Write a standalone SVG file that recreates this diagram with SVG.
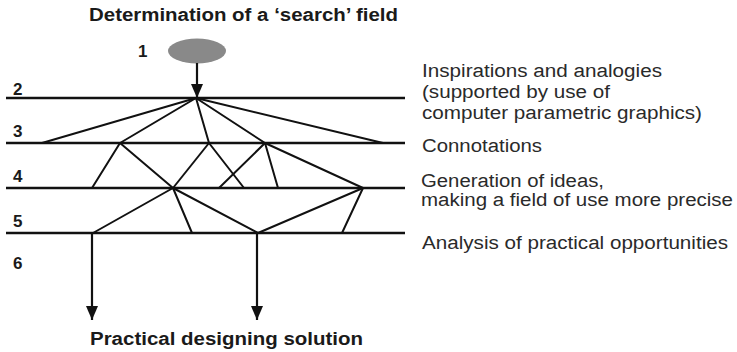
<svg xmlns="http://www.w3.org/2000/svg" width="737" height="352" viewBox="0 0 737 352">
  <defs>
    <marker id="arrow" viewBox="0 0 14 12" refX="14" refY="6" markerWidth="14" markerHeight="12" markerUnits="userSpaceOnUse" orient="auto">
      <path d="M0,0 L14,6 L0,12 Z" fill="#111"/>
    </marker>
    <style>
      .level { stroke: #111; stroke-width: 2.4; fill: none; }
      .edge { stroke: #111; stroke-width: 2; fill: none; stroke-linecap: round; }
      .flow { stroke: #111; stroke-width: 2.2; fill: none; }
      .head { font-family: "Liberation Sans", Arial, sans-serif; font-weight: bold; font-size: 18px; fill: #1a1a1a; }
      .num { font-family: "Liberation Sans", Arial, sans-serif; font-weight: bold; font-size: 17px; fill: #1a1a1a; }
      .desc { font-family: "Liberation Sans", Arial, sans-serif; font-size: 18px; fill: #2a2a2a; }
    </style>
  </defs>
  <rect width="737" height="352" fill="#fff"/>

  <!-- headings -->
  <g id="title">
    <text class="head" x="89" y="21" textLength="309" lengthAdjust="spacingAndGlyphs">Determination of a ‘search’ field</text>
  </g>
  <g id="result">
    <text class="head" x="90" y="345" textLength="273" lengthAdjust="spacingAndGlyphs">Practical designing solution</text>
  </g>

  <!-- start node -->
  <g id="node-start">
    <ellipse cx="197" cy="51" rx="29" ry="12.5" fill="#898989"/>
    <text class="num" x="138" y="57">1</text>
  </g>

  <!-- stage levels -->
  <g id="level-2">
    <line class="level" x1="6" y1="98" x2="405" y2="98"/>
    <text class="num" x="13" y="95">2</text>
    <text class="desc" x="422" y="77" textLength="240" lengthAdjust="spacingAndGlyphs">Inspirations and analogies</text>
    <text class="desc" x="422" y="98" textLength="188" lengthAdjust="spacingAndGlyphs">(supported by use of</text>
    <text class="desc" x="422" y="119" textLength="280" lengthAdjust="spacingAndGlyphs">computer parametric graphics)</text>
  </g>
  <g id="level-3">
    <line class="level" x1="6" y1="143" x2="405" y2="143"/>
    <text class="num" x="13" y="137">3</text>
    <text class="desc" x="422" y="152" textLength="120" lengthAdjust="spacingAndGlyphs">Connotations</text>
  </g>
  <g id="level-4">
    <line class="level" x1="6" y1="188" x2="405" y2="188"/>
    <text class="num" x="13" y="182">4</text>
    <text class="desc" x="421" y="187" textLength="183" lengthAdjust="spacingAndGlyphs">Generation of ideas,</text>
    <text class="desc" x="421" y="206" textLength="312" lengthAdjust="spacingAndGlyphs">making a field of use more precise</text>
  </g>
  <g id="level-5">
    <line class="level" x1="6" y1="233" x2="405" y2="233"/>
    <text class="num" x="13" y="227">5</text>
    <text class="desc" x="422" y="249" textLength="306" lengthAdjust="spacingAndGlyphs">Analysis of practical opportunities</text>
  </g>
  <g id="level-6">
    <text class="num" x="13" y="269">6</text>
  </g>

  <!-- connectors -->
  <g id="connectors">
    <line class="flow" x1="197" y1="63" x2="197" y2="98" marker-end="url(#arrow)"/>

    <!-- level 2 to 3 -->
    <line class="edge" x1="196" y1="98" x2="42" y2="143"/>
    <line class="edge" x1="196" y1="98" x2="120" y2="143"/>
    <line class="edge" x1="196" y1="98" x2="209" y2="143"/>
    <line class="edge" x1="196" y1="98" x2="265" y2="143"/>
    <line class="edge" x1="196" y1="98" x2="383" y2="143"/>

    <!-- level 3 to 4 -->
    <line class="edge" x1="120" y1="143" x2="92" y2="188"/>
    <line class="edge" x1="120" y1="143" x2="173" y2="188"/>
    <line class="edge" x1="209" y1="143" x2="173" y2="188"/>
    <line class="edge" x1="209" y1="143" x2="244" y2="188"/>
    <line class="edge" x1="265" y1="143" x2="219" y2="188"/>
    <line class="edge" x1="265" y1="143" x2="278" y2="188"/>
    <line class="edge" x1="265" y1="143" x2="363" y2="188"/>

    <!-- level 4 to 5 -->
    <line class="edge" x1="173" y1="188" x2="93" y2="233"/>
    <line class="edge" x1="173" y1="188" x2="192" y2="233"/>
    <line class="edge" x1="173" y1="188" x2="258" y2="233"/>
    <line class="edge" x1="363" y1="188" x2="258" y2="233"/>
    <line class="edge" x1="363" y1="188" x2="342" y2="233"/>

    <!-- level 5 to solution -->
    <line class="flow" x1="92" y1="233" x2="92" y2="320" marker-end="url(#arrow)"/>
    <line class="flow" x1="257" y1="233" x2="257" y2="320" marker-end="url(#arrow)"/>
  </g>
</svg>
